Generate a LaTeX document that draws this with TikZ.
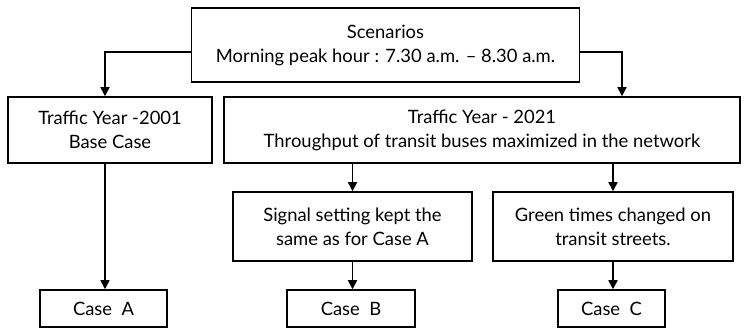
\documentclass[tikz,border=0pt]{standalone}
\usepackage{fontspec}
\setmainfont{Lato}
\usetikzlibrary{arrows.meta,calc}
\begin{document}
\begin{tikzpicture}[x=1pt,y=-1pt,
  box/.style={draw=black,line width=1.5pt,inner sep=0pt,align=center,
    font=\fontsize{18.4}{24}\selectfont},
  arr/.style={line width=1.5pt,-{Triangle[width=9pt,length=9pt]}}]
\useasboundingbox (0,0) rectangle (744,328);
\node[box,minimum width=388,minimum height=74] (scen) at (385.5,45) {Scenarios\\Morning peak hour : 7.30 a.m. -- 8.30 a.m.};
\node[box,minimum width=204,minimum height=66] (y01) at (110,130) {Traffic Year -2001\\Base Case};
\node[box,minimum width=516,minimum height=66] (y21) at (482,130) {Traffic Year - 2021\\Throughput of transit buses maximized in the network};
\node[box,minimum width=239,minimum height=69] (sig) at (352.5,226.5) {Signal setting kept the\\same as for Case A};
\node[box,minimum width=240,minimum height=69] (grn) at (613,226.5) {Green times changed on\\transit streets.};
\node[box,minimum width=127,minimum height=37] (ca) at (103.5,308.5) {Case~~A};
\node[box,minimum width=128,minimum height=37] (cb) at (351,308.5) {Case~~B};
\node[box,minimum width=107,minimum height=37] (cc) at (611.5,308.5) {Case~~C};
\coordinate (l1) at ([yshift=-7]scen.west);
\coordinate (r1) at ([yshift=-7]scen.east);
\coordinate (t01) at ([xshift=-5]y01.north);
\coordinate (t21) at ([xshift=140]y21.north);
\draw[arr] (l1) -| (t01);
\draw[arr] (r1) -| (t21);
\draw[arr] (y01.south -| t01) -- (ca.north -| t01);
\draw[arr] (y21.south -| sig.north) -- (sig.north);
\draw[arr] (y21.south -| grn.north) -- (grn.north);
\draw[arr] (sig.south) -- (sig.south |- cb.north);
\draw[arr] (grn.south) -- (grn.south |- cc.north);
\end{tikzpicture}
\end{document}
